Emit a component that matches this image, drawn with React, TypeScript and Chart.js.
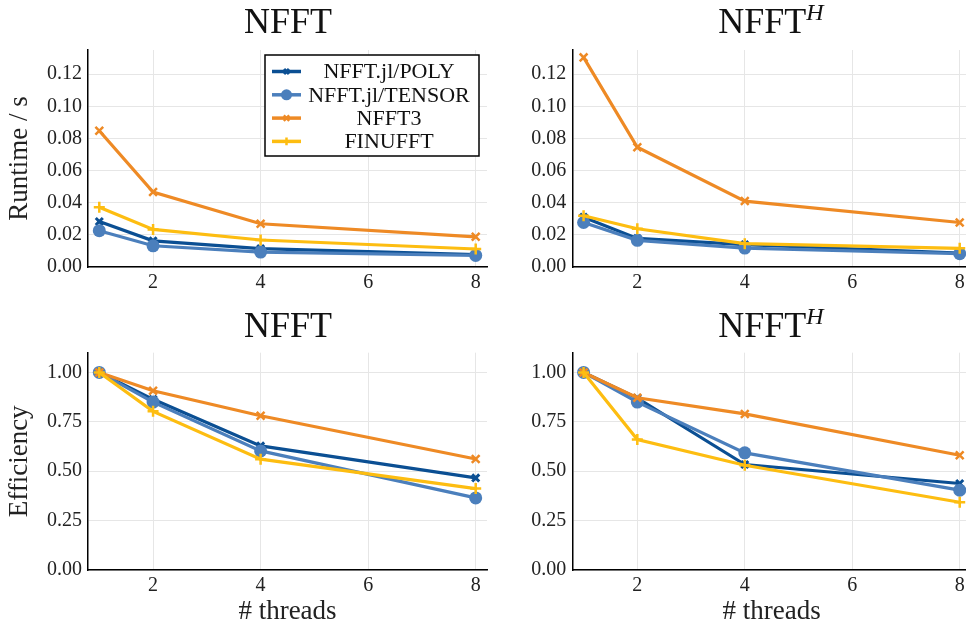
import React, { useEffect, useRef } from 'react';
import { Chart, registerables } from 'chart.js';

Chart.register(...registerables);

// ---------- data ----------
const threads = [1, 2, 4, 8];
const seriesNames = ['NFFT.jl/POLY', 'NFFT.jl/TENSOR', 'NFFT3', 'FINUFFT'];

// runtime / s, NFFT
const runtimeNfftPoly = [0.0283, 0.0163, 0.0114, 0.0077];
const runtimeNfftTensor = [0.0226, 0.0132, 0.0093, 0.0072];
const runtimeNfftNfft3 = [0.0848, 0.0466, 0.0269, 0.0188];
const runtimeNfftFinufft = [0.0372, 0.0234, 0.0168, 0.0112];

// runtime / s, NFFT^H
const runtimeAdjPoly = [0.031, 0.0178, 0.0139, 0.0087];
const runtimeAdjTensor = [0.0277, 0.0166, 0.0118, 0.0083];
const runtimeAdjNfft3 = [0.1304, 0.0745, 0.041, 0.0277];
const runtimeAdjFinufft = [0.0319, 0.0238, 0.0145, 0.0116];

// efficiency, NFFT
const effNfftPoly = [1.0, 0.864, 0.628, 0.466];
const effNfftTensor = [1.0, 0.85, 0.603, 0.365];
const effNfftNfft3 = [1.0, 0.907, 0.781, 0.562];
const effNfftFinufft = [1.0, 0.803, 0.561, 0.412];

// efficiency, NFFT^H
const effAdjPoly = [1.0, 0.87, 0.534, 0.438];
const effAdjTensor = [1.0, 0.85, 0.593, 0.404];
const effAdjNfft3 = [1.0, 0.872, 0.79, 0.581];
const effAdjFinufft = [1.0, 0.66, 0.53, 0.343];

const xTickValues = [2, 4, 6, 8];
const runtimeTickValues = [0, 0.02, 0.04, 0.06, 0.08, 0.1, 0.12];
const efficiencyTickValues = [0, 0.25, 0.5, 0.75, 1.0];
const xRange = [0.79, 8.21];
const runtimeRange = [0, 0.135];
const efficiencyRange = [0, 1.1];

// ---------- styles ----------
const FONT = '"Liberation Serif", "Times New Roman", serif';
const COLORS = ['#0b4f93', '#4b7fbc', '#ee8a25', '#fdbd11'];
const MARKERS = [
  { style: 'crossRot', radius: 5, bw: 3 },
  { style: 'circle', radius: 6.5, bw: 0 },
  { style: 'crossRot', radius: 5.5, bw: 2.5 },
  { style: 'cross', radius: 5.5, bw: 2.5 },
];

function drawMarker(ctx: CanvasRenderingContext2D, i: number, x: number, y: number, scale: number) {
  const m = MARKERS[i];
  const r = m.radius * scale;
  ctx.save();
  ctx.strokeStyle = COLORS[i];
  ctx.fillStyle = COLORS[i];
  ctx.lineWidth = m.bw;
  ctx.beginPath();
  if (m.style === 'circle') {
    ctx.arc(x, y, r, 0, Math.PI * 2);
    ctx.fill();
  } else if (m.style === 'cross') {
    ctx.moveTo(x - r, y);
    ctx.lineTo(x + r, y);
    ctx.moveTo(x, y - r);
    ctx.lineTo(x, y + r);
    ctx.stroke();
  } else {
    const d = r * Math.SQRT1_2;
    ctx.moveTo(x - d, y - d);
    ctx.lineTo(x + d, y + d);
    ctx.moveTo(x - d, y + d);
    ctx.lineTo(x + d, y - d);
    ctx.stroke();
  }
  ctx.restore();
}

const boxLegend = {
  id: 'boxLegend',
  afterDraw(chart: any) {
    const { ctx, chartArea } = chart;
    const w = 214;
    const h = 101;
    const x0 = chartArea.right - 8 - w;
    const y0 = chartArea.top + 5;
    ctx.save();
    ctx.fillStyle = '#ffffff';
    ctx.fillRect(x0, y0, w, h);
    ctx.strokeStyle = '#000000';
    ctx.lineWidth = 1.5;
    ctx.strokeRect(x0, y0, w, h);
    seriesNames.forEach((name, i) => {
      const y = y0 + 16.5 + i * 23.3;
      ctx.strokeStyle = COLORS[i];
      ctx.lineWidth = 3.5;
      ctx.beginPath();
      ctx.moveTo(x0 + 7, y);
      ctx.lineTo(x0 + 36, y);
      ctx.stroke();
      drawMarker(ctx, i, x0 + 21.5, y, i === 1 ? 0.85 : 0.7);
      ctx.fillStyle = '#111111';
      ctx.font = `22px ${FONT}`;
      ctx.textAlign = 'center';
      ctx.textBaseline = 'middle';
      ctx.fillText(name, x0 + 124, y + 1);
    });
    ctx.restore();
  },
};

type Panel = {
  left: number;
  top: number;
  width: number;
  height: number;
  padTop: number;
  padRight: number;
  yWidth: number;
  xHeight: number;
  series: number[][];
  yTicks: number[];
  yRange: number[];
  yTitle?: string;
  xTitle?: string;
  legend?: boolean;
};

const panels: Panel[] = [
  {
    left: 0, top: 40, width: 490, height: 260, padTop: 10, padRight: 3, yWidth: 88, xHeight: 33,
    series: [runtimeNfftPoly, runtimeNfftTensor, runtimeNfftNfft3, runtimeNfftFinufft],
    yTicks: runtimeTickValues, yRange: runtimeRange, yTitle: 'Runtime / s', legend: true,
  },
  {
    left: 490, top: 40, width: 490, height: 260, padTop: 10, padRight: 9, yWidth: 82.3, xHeight: 33,
    series: [runtimeAdjPoly, runtimeAdjTensor, runtimeAdjNfft3, runtimeAdjFinufft],
    yTicks: runtimeTickValues, yRange: runtimeRange,
  },
  {
    left: 0, top: 340, width: 490, height: 289, padTop: 12.7, padRight: 3, yWidth: 88, xHeight: 59,
    series: [effNfftPoly, effNfftTensor, effNfftNfft3, effNfftFinufft],
    yTicks: efficiencyTickValues, yRange: efficiencyRange, yTitle: 'Efficiency', xTitle: '# threads',
  },
  {
    left: 490, top: 340, width: 490, height: 289, padTop: 12.7, padRight: 9, yWidth: 82.3, xHeight: 59,
    series: [effAdjPoly, effAdjTensor, effAdjNfft3, effAdjFinufft],
    yTicks: efficiencyTickValues, yRange: efficiencyRange, xTitle: '# threads',
  },
];

function PanelChart({ p }: { p: Panel }) {
  const ref = useRef<HTMLCanvasElement | null>(null);
  useEffect(() => {
    if (!ref.current) return;
    const datasets = p.series.map((vals, i) => ({
      label: seriesNames[i],
      data: threads.map((t, j) => ({ x: t, y: vals[j] })),
      borderColor: COLORS[i],
      backgroundColor: COLORS[i],
      borderWidth: 3.2,
      pointStyle: MARKERS[i].style as any,
      pointRadius: MARKERS[i].radius,
      pointBorderWidth: MARKERS[i].bw,
      pointBackgroundColor: COLORS[i],
      pointBorderColor: COLORS[i],
      order: 4 - i,
      tension: 0,
    }));
    const gridColor = '#e6e6e6';
    const chart = new Chart(ref.current, {
      type: 'line',
      data: { datasets },
      plugins: p.legend ? [boxLegend] : [],
      options: {
        animation: false,
        responsive: false,
        layout: { autoPadding: false, padding: { top: p.padTop, right: p.padRight, left: 0, bottom: 0 } },
        plugins: { legend: { display: false }, tooltip: { enabled: false } },
        scales: {
          x: {
            type: 'linear',
            min: xRange[0],
            max: xRange[1],
            afterBuildTicks: (s: any) => {
              s.ticks = xTickValues.map((v) => ({ value: v }));
            },
            afterFit: (s: any) => {
              s.height = p.xHeight;
              s.paddingLeft = 0;
              s.paddingRight = 0;
            },
            grid: { color: gridColor, lineWidth: 1, drawTicks: false },
            border: { display: true, color: '#000000', width: 1.5 },
            ticks: {
              padding: 4,
              color: '#222222',
              font: { family: FONT, size: 20 },
              maxRotation: 0,
              callback: (v: any) => String(v),
            },
            title: p.xTitle
              ? { display: true, text: p.xTitle, color: '#222222', font: { family: FONT, size: 27 }, padding: { top: 0, bottom: 1 } }
              : { display: false },
          },
          y: {
            type: 'linear',
            min: p.yRange[0],
            max: p.yRange[1],
            afterBuildTicks: (s: any) => {
              s.ticks = p.yTicks.map((v) => ({ value: v }));
            },
            afterFit: (s: any) => {
              s.width = p.yWidth;
              s.paddingTop = 0;
              s.paddingBottom = 0;
            },
            grid: { color: gridColor, lineWidth: 1, drawTicks: false },
            border: { display: true, color: '#000000', width: 1.5 },
            ticks: {
              padding: 6,
              color: '#222222',
              font: { family: FONT, size: 20 },
              callback: (v: any) => Number(v).toFixed(2),
            },
            title: p.yTitle
              ? { display: true, text: p.yTitle, color: '#222222', font: { family: FONT, size: 27 }, padding: { top: 4, bottom: 0 } }
              : { display: false },
          },
        },
      } as any,
    });
    return () => chart.destroy();
  }, [p]);
  return (
    <canvas
      ref={ref}
      width={p.width}
      height={p.height}
      style={{ position: 'absolute', left: p.left, top: p.top, width: p.width, height: p.height }}
    />
  );
}

const titleStyle: React.CSSProperties = {
  position: 'absolute',
  width: 400,
  textAlign: 'center',
  fontFamily: FONT,
  fontSize: 36,
  lineHeight: '36px',
  color: '#111111',
  whiteSpace: 'nowrap',
};

function Sup() {
  return (
    <span style={{ fontStyle: 'italic', fontSize: 24, position: 'relative', top: -13 }}>H</span>
  );
}

export default function App() {
  return (
    <div
      style={{
        position: 'fixed',
        left: 0,
        top: 0,
        width: 966,
        height: 629,
        overflow: 'hidden',
        background: '#ffffff',
      }}
    >
      {panels.map((p, i) => (
        <PanelChart key={i} p={p} />
      ))}
      <div style={{ ...titleStyle, left: 88, top: 3 }}>NFFT</div>
      <div style={{ ...titleStyle, left: 571, top: 3 }}>
        NFFT<Sup />
      </div>
      <div style={{ ...titleStyle, left: 88, top: 307 }}>NFFT</div>
      <div style={{ ...titleStyle, left: 571, top: 307 }}>
        NFFT<Sup />
      </div>
    </div>
  );
}
